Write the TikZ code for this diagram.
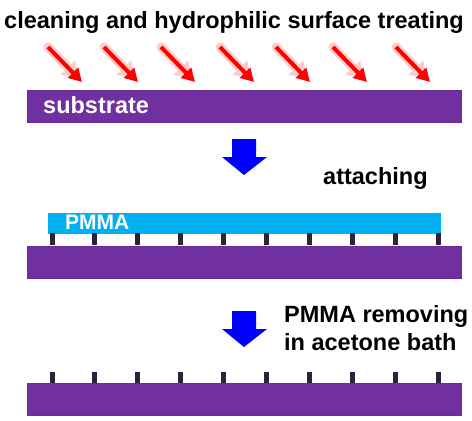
\documentclass[tikz,border=0pt]{standalone}
\usepackage{fontspec}
\setmainfont{Liberation Sans}
\usetikzlibrary{arrows.meta}
\definecolor{subpurple}{HTML}{7030A0}
\definecolor{subedge}{HTML}{6A2A9C}
\definecolor{pmmablue}{HTML}{00B0F0}
\definecolor{pillardark}{HTML}{2E2240}
\definecolor{glowred}{HTML}{FFCACA}
\tikzset{
    substrate/.style={fill=subpurple,draw=subedge,line width=0.8pt},
    pmmalayer/.style={fill=pmmablue,draw=none},
    pillar/.style={fill=pillardark,draw=none},
    glow/.style={draw=glowred,line width=9pt,line cap=round,-{Triangle[length=16pt,width=19pt]}},
    redarrow/.style={draw=red,line width=4pt,-{Triangle[length=13pt,width=14pt]}},
    bluearrow/.style={fill=blue,draw=none},
    steptext/.style={font=\bfseries\fontsize{23.5}{27}\selectfont,anchor=base west,inner sep=0pt},
    inlabel/.style={font=\bfseries\fontsize{23.5}{27}\selectfont,text=white,anchor=base west,inner sep=0pt}
}
\begin{document}
\begin{tikzpicture}[x=1pt,y=-1pt]
    \useasboundingbox[fill=white] (0,0) rectangle (472,421);
    \node[steptext] (treating) at (4,28) {cleaning and hydrophilic surface treating};
    \draw[glow] (48,47) -- (79,79);
    \draw[glow] (104,47) -- (135,79);
    \draw[glow] (161,47) -- (192,79);
    \draw[glow] (220,47) -- (251,79);
    \draw[glow] (276,47) -- (307,79);
    \draw[glow] (333,47) -- (364,79);
    \draw[glow] (396,47) -- (427,79);
    \draw[redarrow] (48,47) -- (82,82);
    \draw[redarrow] (104,47) -- (138,82);
    \draw[redarrow] (161,47) -- (195,82);
    \draw[redarrow] (220,47) -- (254,82);
    \draw[redarrow] (276,47) -- (310,82);
    \draw[redarrow] (333,47) -- (367,82);
    \draw[redarrow] (396,47) -- (430,82);
    \draw[substrate] (27,90) rectangle (461,122);
    \node[inlabel] (substrate) at (43,113) {substrate};
    \fill[bluearrow] (232,139) -- (256,139) -- (256,157) -- (267,157) -- (244,175) -- (222,157) -- (232,157) -- cycle;
    \node[steptext] (attaching) at (323,184) {attaching};
    \fill[pmmalayer] (48,213) rectangle (441,234);
    \node[inlabel,font=\bfseries\fontsize{21}{25}\selectfont] (pmma) at (65,229) {PMMA};
    \fill[pillar] (49.5,233) rectangle (54.5,245);
    \fill[pillar] (92,233) rectangle (97,245);
    \fill[pillar] (135,233) rectangle (140,245);
    \fill[pillar] (178,233) rectangle (183,245);
    \fill[pillar] (221,233) rectangle (226,245);
    \fill[pillar] (264,233) rectangle (269,245);
    \fill[pillar] (307,233) rectangle (312,245);
    \fill[pillar] (350,233) rectangle (355,245);
    \fill[pillar] (393,233) rectangle (398,245);
    \fill[pillar] (436,233) rectangle (441,245);
    \draw[substrate] (27,246) rectangle (461,278);
    \fill[bluearrow] (232,311) -- (256,311) -- (256,329) -- (267,329) -- (244,347) -- (222,329) -- (232,329) -- cycle;
    \node[steptext] (removing) at (284,322) {PMMA removing};
    \node[steptext] (bath) at (284,350) {in acetone bath};
    \fill[pillar] (49.5,372) rectangle (54.5,384);
    \fill[pillar] (92,372) rectangle (97,384);
    \fill[pillar] (135,372) rectangle (140,384);
    \fill[pillar] (178,372) rectangle (183,384);
    \fill[pillar] (221,372) rectangle (226,384);
    \fill[pillar] (264,372) rectangle (269,384);
    \fill[pillar] (307,372) rectangle (312,384);
    \fill[pillar] (350,372) rectangle (355,384);
    \fill[pillar] (393,372) rectangle (398,384);
    \fill[pillar] (436,372) rectangle (441,384);
    \draw[substrate] (27,383) rectangle (461,415);
\end{tikzpicture}
\end{document}
